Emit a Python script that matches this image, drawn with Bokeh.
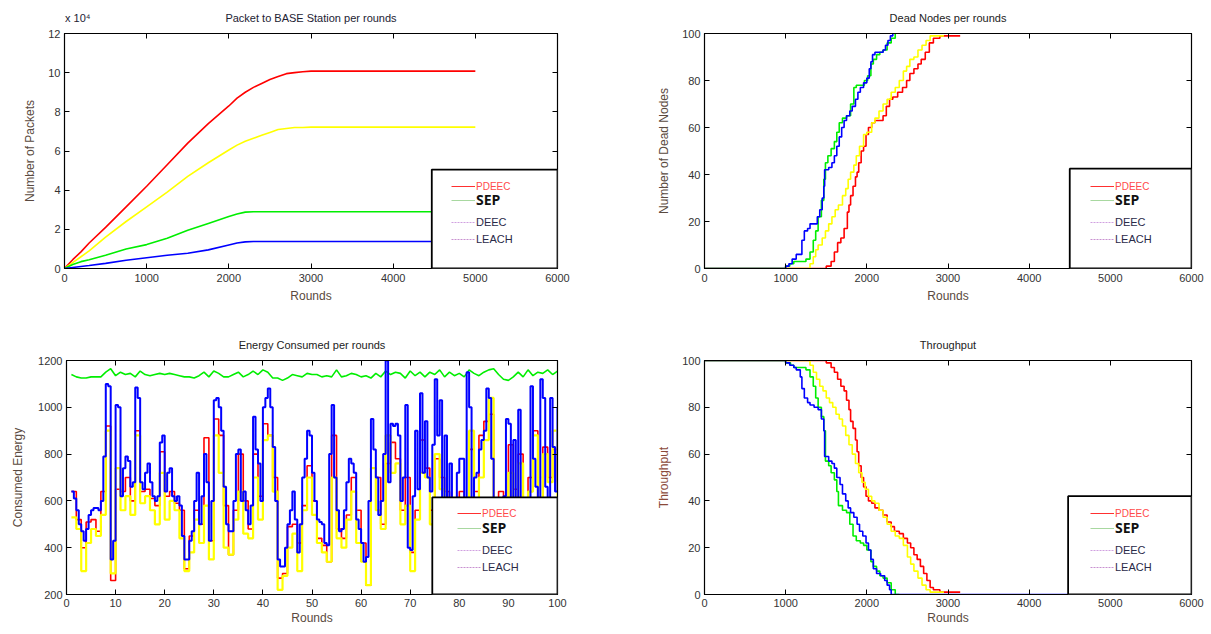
import numpy as np
from bokeh.plotting import figure
from bokeh.models import (LinearAxis, Range1d, BoxAnnotation, Legend, LegendItem,
                          FixedTicker)
from bokeh.layouts import column, row
from bokeh.embed import file_html
from bokeh.resources import INLINE

FONT = "Liberation Sans"
RED, YEL, GRN, BLU = "#ff0000", "#ffff00", "#00ee00", "#0000ff"

# ---------------- data ----------------
# Packets to base station (x 10^4)
pk_rounds = [0, 100, 200, 300, 500, 750, 1000, 1250, 1500, 1750, 2000, 2100, 2200,
             2300, 2400, 2500, 2600, 2700, 2800, 2900, 3000, 5000]
pk_pdeec = [0, 0.45, 0.85, 1.3, 2.1, 3.15, 4.2, 5.3, 6.4, 7.4, 8.3, 8.7, 9.0,
            9.25, 9.45, 9.65, 9.8, 9.95, 10.0, 10.05, 10.08, 10.08]
pk_deec = [0, 0.3, 0.6, 0.9, 1.6, 2.4, 3.15, 3.9, 4.7, 5.4, 6.05, 6.3, 6.5,
           6.65, 6.8, 6.95, 7.1, 7.15, 7.2, 7.2, 7.22, 7.22]
pk_sep = [0, 0.2, 0.35, 0.45, 0.68, 1.0, 1.22, 1.55, 1.95, 2.3, 2.65, 2.78, 2.88,
          2.9, 2.9, 2.9, 2.9, 2.9, 2.9, 2.9, 2.9, 2.9]
pk_leach = [0, 0.05, 0.1, 0.15, 0.26, 0.42, 0.55, 0.68, 0.78, 0.95, 1.2, 1.3, 1.36,
            1.38, 1.38, 1.38, 1.38, 1.38, 1.38, 1.38, 1.38, 1.38]
pk_title = "Packet to BASE Station per rounds"
pk_scale = "x 10⁴"

# Dead nodes per round (step data)
dn_leach_x = [0, 1000, 1040, 1080, 1130, 1180, 1200, 1230, 1270, 1300, 1350, 1390, 1420, 1450,
              1470, 1480, 1530, 1570, 1600, 1630, 1660, 1690, 1720, 1750, 1790, 1820, 1860,
              1890, 1920, 1960, 2000, 2030, 2050, 2070, 2100, 2150, 2200, 2230, 2260, 2290, 2320]
dn_leach_y = [0, 1, 2, 4, 6, 6, 12, 16, 17, 19, 19, 22, 25, 30, 35, 42, 43, 45, 48, 52, 56,
              60, 63, 65, 67, 69, 72, 75, 77, 79, 81, 85, 88, 91, 92, 92, 93, 95, 97, 99, 100]
dn_sep_x = [0, 1000, 1050, 1100, 1250, 1300, 1340, 1370, 1400, 1440, 1470, 1490, 1520, 1560,
            1600, 1630, 1660, 1700, 1750, 1800, 1840, 1870, 1920, 1970, 2010, 2050, 2080,
            2120, 2160, 2200, 2250, 2300, 2350]
dn_sep_y = [0, 1, 2, 3, 4, 7, 12, 16, 22, 29, 38, 45, 48, 51, 54, 58, 62, 64, 65, 70, 77,
            78, 78, 80, 82, 87, 89, 91, 92, 93, 96, 98, 100]
dn_deec_x = [0, 1300, 1340, 1370, 1400, 1450, 1490, 1530, 1570, 1610, 1650, 1700, 1740, 1770,
             1800, 1840, 1870, 1910, 1960, 2000, 2060, 2100, 2150, 2200, 2250, 2300, 2350,
             2400, 2450, 2490, 2530, 2580, 2630, 2680, 2730, 2780, 2950]
dn_deec_y = [0, 2, 5, 8, 10, 13, 16, 19, 22, 25, 27, 31, 34, 38, 41, 44, 48, 52, 57, 58, 62,
             64, 67, 70, 72, 75, 77, 80, 84, 86, 89, 90, 93, 95, 97, 99, 99]
dn_pdeec_x = [0, 1500, 1560, 1600, 1640, 1680, 1720, 1760, 1780, 1800, 1830, 1860, 1880, 1900,
              1930, 1960, 1990, 2020, 2060, 2100, 2150, 2200, 2240, 2280, 2320, 2380, 2440,
              2490, 2530, 2580, 2630, 2670, 2720, 2770, 2820, 2900, 3150]
dn_pdeec_y = [0, 1, 3, 7, 11, 13, 17, 24, 27, 31, 35, 39, 41, 45, 50, 52, 57, 60, 62, 63, 63,
              65, 69, 72, 73, 75, 77, 80, 83, 85, 87, 89, 92, 96, 98, 99, 99]

# Throughput (step data)
tp_leach_x = [0, 1000, 1050, 1100, 1130, 1180, 1200, 1230, 1270, 1300, 1350, 1400, 1440, 1470,
              1480, 1530, 1570, 1600, 1630, 1670, 1700, 1740, 1770, 1800, 1840, 1880, 1910,
              1950, 1990, 2020, 2050, 2080, 2120, 2170, 2220, 2250, 2280, 2300, 5000]
tp_leach_y = [100, 99, 98, 97, 96, 93, 88, 84, 82, 81, 80, 79, 75, 70, 59, 57, 56, 54, 50, 47,
              43, 40, 37, 35, 33, 30, 27, 25, 22, 19, 15, 11, 9, 8, 6, 4, 2, 0, 0]
tp_sep_x = [0, 1000, 1060, 1100, 1250, 1300, 1340, 1370, 1400, 1440, 1470, 1490, 1530, 1560,
            1600, 1630, 1650, 1700, 1750, 1790, 1830, 1870, 1920, 1960, 2000, 2050, 2080,
            2120, 2160, 2200, 2250, 2300, 2350, 2400]
tp_sep_y = [100, 99, 98, 97, 96, 93, 89, 84, 80, 76, 70, 57, 55, 52, 49, 44, 38, 36, 35, 30,
            25, 23, 22, 21, 19, 14, 12, 10, 8, 7, 5, 2, 0, 0]
tp_deec_x = [0, 1300, 1340, 1380, 1420, 1460, 1500, 1540, 1580, 1620, 1660, 1700, 1740, 1780,
             1820, 1860, 1900, 1940, 1980, 2020, 2060, 2100, 2150, 2200, 2250, 2300, 2350,
             2400, 2450, 2500, 2540, 2580, 2630, 2680, 2730, 2780, 2950]
tp_deec_y = [100, 98, 95, 92, 89, 87, 84, 82, 80, 77, 75, 72, 68, 64, 60, 56, 52, 48, 45, 42,
             40, 39, 36, 33, 30, 27, 25, 24, 21, 16, 13, 10, 7, 4, 2, 1, 1]
tp_pdeec_x = [0, 1500, 1560, 1600, 1640, 1680, 1720, 1750, 1780, 1800, 1830, 1860, 1880, 1900,
              1930, 1960, 1990, 2020, 2060, 2100, 2150, 2200, 2250, 2300, 2340, 2400, 2450,
              2500, 2540, 2580, 2620, 2660, 2700, 2740, 2780, 2820, 2900, 3150]
tp_pdeec_y = [100, 99, 97, 95, 92, 89, 87, 83, 79, 74, 71, 66, 61, 55, 50, 46, 42, 40, 39, 37,
              36, 34, 31, 29, 27, 26, 24, 22, 20, 17, 15, 12, 9, 6, 3, 2, 1, 1]

# Energy consumed per round
# LEACH sampled every half round, starting at round 1
en_leach = [640, 610, 560, 500, 470, 430, 480, 540, 560, 570, 570, 560, 600, 790, 1100, 1090,
            350, 430, 1010, 1000, 620, 740, 790, 770, 660, 680, 1085, 1040, 680, 650, 720, 760,
            680, 620, 600, 620, 850, 880, 640, 720, 740, 620, 600, 620, 580, 450, 350, 350,
            430, 470, 600, 720, 500, 620, 800, 680, 430, 600, 1030, 1040, 1000, 900, 660, 500,
            470, 470, 600, 800, 820, 600, 640, 560, 500, 580, 960, 820, 760, 600, 1000, 1040,
            1080, 1000, 830, 600, 350, 320, 320, 400, 500, 560, 640, 520, 380, 500, 700, 780,
            900, 880, 720, 600, 520, 510, 500, 420, 410, 800, 1010, 700, 560, 470, 480, 560,
            680, 780, 760, 720, 520, 480, 420, 340, 360, 600, 950, 820, 700, 540, 600, 800,
            1200, 680, 930, 920, 930, 880, 600, 700, 1010, 400, 390, 620, 900, 650, 1060, 720,
            940, 700, 640, 840, 1120, 880, 1030, 520, 880, 560, 760, 480, 560, 720, 780, 780,
            520, 1150, 1000, 540, 700, 720, 820, 860, 900, 1080, 1040, 780, 520, 560, 600, 500,
            620, 950, 930, 560, 860, 540, 990, 600, 560, 520, 600, 1090, 780, 660, 560, 1120,
            1040, 660, 560, 1040, 830, 640, 1000]
# one value per round
en_deec = [530, 480, 300, 420, 480, 450, 540, 900, 290, 740, 560, 620, 540, 880, 590, 620, 560,
           500, 720, 520, 600, 560, 440, 300, 380, 520, 420, 580, 350, 880, 720, 400, 370, 520,
           640, 460, 440, 700, 520, 860, 880, 640, 220, 280, 400, 460, 300, 560, 700, 540, 420,
           380, 340, 700, 440, 400, 520, 640, 420, 340, 240, 740, 560, 480, 880, 720, 760, 500,
           580, 300, 520, 720, 700, 500, 800, 650, 600, 500, 500, 600, 480, 900, 560, 700, 860,
           1040, 520, 600, 500, 720, 600, 760, 520, 640, 880, 520, 800, 680, 900, 620]
en_pdeec = [640, 520, 400, 510, 520, 470, 640, 920, 260, 650, 640, 700, 600, 900, 640, 650, 610,
            580, 810, 620, 640, 590, 560, 310, 450, 560, 500, 870, 430, 950, 880, 580, 370, 560,
            800, 600, 480, 800, 620, 930, 880, 700, 270, 290, 490, 500, 420, 580, 750, 600, 440,
            410, 340, 880, 480, 440, 540, 700, 560, 420, 240, 740, 700, 500, 760, 850, 780, 560,
            700, 380, 560, 860, 740, 560, 780, 700, 640, 540, 600, 640, 600, 820, 640, 880, 940,
            970, 600, 640, 560, 840, 650, 800, 560, 700, 900, 600, 830, 700, 820, 680]
en_sep = [1140, 1130, 1125, 1125, 1130, 1130, 1130, 1150, 1165, 1135, 1150, 1140, 1145, 1130,
          1155, 1140, 1135, 1140, 1145, 1140, 1145, 1140, 1135, 1130, 1130, 1125, 1135, 1150,
          1130, 1155, 1145, 1130, 1130, 1140, 1150, 1130, 1140, 1155, 1140, 1160, 1150, 1125,
          1125, 1115, 1125, 1140, 1135, 1130, 1145, 1140, 1140, 1130, 1135, 1130, 1160, 1130,
          1135, 1145, 1140, 1130, 1135, 1125, 1145, 1130, 1155, 1140, 1150, 1145, 1125, 1155,
          1135, 1150, 1130, 1150, 1140, 1160, 1130, 1150, 1135, 1145, 1130, 1160, 1145, 1135,
          1150, 1160, 1165, 1140, 1120, 1115, 1130, 1150, 1130, 1160, 1135, 1150, 1145, 1160,
          1140, 1155]

legend_labels = ["PDEEC", "SEP", "DEEC", "LEACH"]


# ---------------- helpers ----------------
def make_fig(title, w, h, bl, br, bt, bb, xr, yr, xticks, yticks, xlabel, ylabel,
             title_standoff=19, ylab_standoff=8, xlab_standoff=4, xtick_standoff=5):
    p = figure(width=w, height=h, min_border_left=bl, min_border_right=br,
               min_border_top=bt, min_border_bottom=bb,
               x_range=Range1d(*xr), y_range=Range1d(*yr),
               output_backend="svg", toolbar_location=None, title=title)
    if title is not None:
        p.title.align = "center"
        p.title.text_font = FONT
        p.title.text_font_size = "11px"
        p.title.text_font_style = "normal"
        p.title.text_color = "#222222"
        p.title.standoff = title_standoff
    p.grid.visible = False
    p.outline_line_color = "black"
    p.outline_line_width = 1.2
    p.background_fill_color = "white"
    p.border_fill_color = "white"
    p.xaxis.ticker = FixedTicker(ticks=xticks)
    p.yaxis.ticker = FixedTicker(ticks=yticks)
    p.xaxis.axis_label = xlabel
    p.yaxis.axis_label = ylabel
    for ax in (p.xaxis[0], p.yaxis[0]):
        ax.major_tick_in = 5
        ax.major_tick_out = 0
        ax.minor_tick_line_color = None
        ax.axis_line_color = "black"
        ax.major_tick_line_color = "black"
        ax.major_label_text_font = FONT
        ax.major_label_text_font_size = "11px"
        ax.major_label_text_color = "#333333"
        ax.axis_label_text_font = FONT
        ax.axis_label_text_font_size = "12px"
        ax.axis_label_text_font_style = "normal"
        ax.axis_label_text_color = "#5a4a40"
    p.xaxis[0].major_label_standoff = xtick_standoff
    p.xaxis[0].axis_label_standoff = xlab_standoff
    p.yaxis[0].major_label_standoff = 4
    p.yaxis[0].axis_label_standoff = ylab_standoff
    top = LinearAxis(ticker=FixedTicker(ticks=xticks), major_label_text_font_size="1px",
                     major_label_text_color=None,
                     major_tick_in=5, major_tick_out=0, minor_tick_line_color=None,
                     major_label_standoff=0, axis_line_color="black")
    right = LinearAxis(ticker=FixedTicker(ticks=yticks), major_label_text_font_size="1px",
                       major_label_text_color=None,
                       major_tick_in=5, major_tick_out=0, minor_tick_line_color=None,
                       major_label_standoff=0, axis_line_color="black")
    p.add_layout(top, "above")
    p.add_layout(right, "right")
    return p


def add_legend(p, box, x0, ys):
    p.add_layout(BoxAnnotation(left=box[0], right=box[1], bottom=box[2], top=box[3],
                               fill_color="white", fill_alpha=1.0, line_color="black",
                               line_width=1.8, line_alpha=1.0))
    styles = [
        dict(line_color="#ff3030", line_width=1, line_dash="solid",
             tc="#ff4a4a", ts="10px", tf="normal", font=FONT),
        dict(line_color="#a8d8a0", line_width=1, line_dash="solid",
             tc="#111111", ts="14px", tf="bold", font="Open Sans"),
        dict(line_color="#d0a0e0", line_width=1, line_dash="2 1",
             tc="#2a2a48", ts="11px", tf="normal", font=FONT),
        dict(line_color="#c890d0", line_width=1, line_dash="2 1",
             tc="#2a2a48", ts="11px", tf="normal", font=FONT),
    ]
    for lab, st, yc in zip(legend_labels, styles, ys):
        # legend-only renderer: a single NaN point, nothing drawn in the plot area
        r = p.line(x=[np.nan], y=[np.nan], line_color=st["line_color"],
                   line_width=st["line_width"], line_dash=st["line_dash"])
        lg = Legend(items=[LegendItem(label=lab, renderers=[r])], location=(x0, yc - 7),
                    border_line_color=None, background_fill_alpha=0, padding=0, margin=0,
                    spacing=0, glyph_width=24, glyph_height=14, label_height=14,
                    label_standoff=1, label_text_font=st["font"],
                    label_text_font_size=st["ts"], label_text_color=st["tc"],
                    label_text_font_style=st["tf"])
        p.add_layout(lg)


# ---------------- panel 1: packets ----------------
p1 = make_fig(None, 605, 321, 64, 48, 33, 53,
              (0, 6000), (0, 12), list(range(0, 6001, 1000)), list(range(0, 13, 2)),
              "Rounds", "Number of Packets")
# title and the "x 10^4" multiplier share one row above the frame
title_x = (p1.x_range.start + p1.x_range.end) / 2
scale_x = p1.x_range.start + 0.027 * (p1.x_range.end - p1.x_range.start)
head = LinearAxis(ticker=FixedTicker(ticks=[scale_x, title_x]),
                  major_label_overrides={scale_x: pk_scale, title_x: pk_title},
                  major_tick_line_color=None, minor_tick_line_color=None,
                  axis_line_color=None, major_label_standoff=4,
                  major_label_text_font=FONT, major_label_text_font_size="11px",
                  major_label_text_color="#222233")
p1.add_layout(head, "above")
for ys, c in [(pk_pdeec, RED), (pk_deec, YEL), (pk_sep, GRN), (pk_leach, BLU)]:
    p1.line(pk_rounds, ys, line_color=c, line_width=1.6)
add_legend(p1, (4470, 6000, 0, 5.05), 387, [82, 66, 46, 29])

# ---------------- panel 2: dead nodes ----------------
p2 = make_fig("Dead Nodes per rounds", 600, 321, 99, 14, 33, 53,
              (0, 6000), (0, 100), list(range(0, 6001, 1000)), list(range(0, 101, 20)),
              "Rounds", "Number of Dead Nodes")
for xs, ys, c in [(dn_pdeec_x, dn_pdeec_y, RED), (dn_deec_x, dn_deec_y, YEL),
                  (dn_sep_x, dn_sep_y, GRN), (dn_leach_x, dn_leach_y, BLU)]:
    p2.step(xs, ys, mode="after", line_color=c, line_width=1.6)
add_legend(p2, (4500, 6000, 0, 42.5), 386, [82, 66, 46, 29])

# ---------------- panel 3: energy ----------------
p3 = make_fig("Energy Consumed per rounds", 605, 313, 66, 48, 39, 40,
              (0, 100), (200, 1200), list(range(0, 101, 10)), list(range(200, 1201, 200)),
              "Rounds", "Consumed Energy", ylab_standoff=10, xlab_standoff=1, xtick_standoff=4)
r_round = np.arange(1, len(en_deec) + 1)
r_half = 1 + 0.5 * np.arange(len(en_leach))
p3.line(r_round, en_sep, line_color=GRN, line_width=1.6)
p3.step(r_round, en_pdeec, mode="after", line_color=RED, line_width=1.6)
p3.step(r_round, en_deec, mode="after", line_color=YEL, line_width=2.2)
p3.step(r_half, en_leach, mode="after", line_color=BLU, line_width=2)
add_legend(p3, (74.5, 100, 200, 615), 391, [81, 64, 44, 27])

# ---------------- panel 4: throughput ----------------
p4 = make_fig("Throughput", 600, 313, 99, 14, 39, 40,
              (0, 6000), (0, 100), list(range(0, 6001, 1000)), list(range(0, 101, 20)),
              "Rounds", "Throughput", xlab_standoff=1, xtick_standoff=4)
for xs, ys, c in [(tp_pdeec_x, tp_pdeec_y, RED), (tp_deec_x, tp_deec_y, YEL),
                  (tp_sep_x, tp_sep_y, GRN), (tp_leach_x, tp_leach_y, BLU)]:
    p4.step(xs, ys, mode="after", line_color=c, line_width=1.6)
p4.yaxis[0].axis_label_text_color = "#8a4a3a"
add_legend(p4, (4480, 6000, 0, 42), 386, [81, 64, 44, 27])

layout = column(row(p1, p2), row(p3, p4))
open("out.html", "w").write(file_html(layout, INLINE))
